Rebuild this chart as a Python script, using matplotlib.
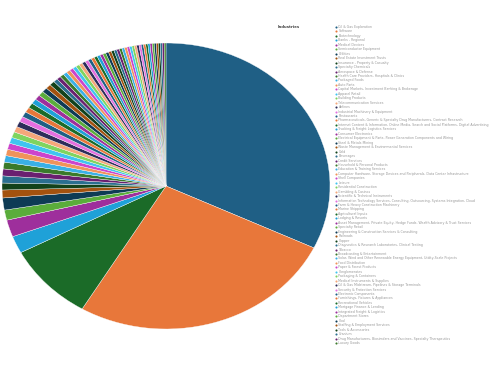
import matplotlib.pyplot as plt
from matplotlib.lines import Line2D

major_shares = [32.1, 26.4, 8.75, 1.94, 1.92, 1.14, 1.36, 0.89, 0.78]
minor_shares = [
    0.80, 0.78, 0.76, 0.74, 0.72, 0.70, 0.68, 0.66, 0.64, 0.63,
    0.61, 0.60, 0.58, 0.57, 0.56, 0.55, 0.54, 0.53, 0.52, 0.51,
    0.42, 0.41, 0.40, 0.39, 0.38, 0.37, 0.36, 0.36, 0.35, 0.34,
    0.33, 0.33, 0.32, 0.31, 0.31, 0.30, 0.30, 0.29, 0.28, 0.28,
    0.27, 0.27, 0.26, 0.26, 0.25, 0.25, 0.24, 0.24, 0.23, 0.23,
    0.22, 0.22, 0.22, 0.21, 0.21, 0.21, 0.20, 0.20, 0.20, 0.19,
    0.19, 0.19, 0.18,
]
shares = major_shares + minor_shares

industries = [
    "Oil & Gas Exploration", "Software", "Biotechnology", "Banks - Regional",
    "Medical Devices", "Semiconductor Equipment", "Utilities", "Real Estate Investment Trusts",
    "Insurance - Property & Casualty", "Specialty Chemicals", "Aerospace & Defense",
    "Health Care Providers, Hospitals & Clinics", "Packaged Foods", "Auto Parts",
    "Capital Markets, Investment Banking & Brokerage", "Apparel Retail",
    "Building Products", "Telecommunication Services", "Airlines",
    "Industrial Machinery & Equipment", "Restaurants",
    "Pharmaceuticals, Generic & Specialty Drug Manufacturers, Contract Research",
    "Internet Content & Information, Online Media, Search and Social Platforms, Digital Advertising",
    "Trucking & Freight Logistics Services", "Consumer Electronics",
    "Electrical Equipment & Parts, Power Generation Components and Wiring",
    "Steel & Metals Mining", "Waste Management & Environmental Services",
    "Gold", "Beverages", "Credit Services", "Household & Personal Products",
    "Education & Training Services",
    "Computer Hardware, Storage Devices and Peripherals, Data Center Infrastructure",
    "Shell Companies", "Leisure",
    "Residential Construction", "Gambling & Casinos", "Scientific & Technical Instruments",
    "Information Technology Services, Consulting, Outsourcing, Systems Integration, Cloud",
    "Farm & Heavy Construction Machinery", "Marine Shipping",
    "Agricultural Inputs", "Lodging & Resorts",
    "Asset Management, Private Equity, Hedge Funds, Wealth Advisory & Trust Services",
    "Specialty Retail", "Engineering & Construction Services & Consulting",
    "Railroads", "Copper", "Diagnostics & Research Laboratories, Clinical Testing",
    "Tobacco", "Broadcasting & Entertainment",
    "Solar, Wind and Other Renewable Energy Equipment, Utility-Scale Projects",
    "Food Distribution", "Paper & Forest Products", "Conglomerates",
    "Packaging & Containers", "Medical Instruments & Supplies",
    "Oil & Gas Midstream, Pipelines & Storage Terminals",
    "Security & Protection Services", "Electronic Components",
    "Furnishings, Fixtures & Appliances", "Recreational Vehicles",
    "Mortgage Finance & Lending", "Integrated Freight & Logistics",
    "Department Stores", "Coal", "Staffing & Employment Services",
    "Tools & Accessories", "Uranium",
    "Drug Manufacturers, Biosimilars and Vaccines, Specialty Therapeutics",
    "Luxury Goods",
]

palette = [
    "#1f5f85", "#e8773a", "#1b6b28", "#1fa1d8", "#9e2f9c", "#5aad3b",
    "#0e3b55", "#a3520f", "#12421a", "#2a6f8f", "#6a2070", "#3a7a2a",
    "#3ab0e6", "#f0935a", "#cc44cc", "#40c4f0", "#7fd45f", "#f5a77a",
    "#2d2d5a", "#e46fe0",
]
colors = [palette[i % len(palette)] for i in range(len(shares))]

W, H = 499, 366
fig = plt.figure(figsize=(W / 100, H / 100), dpi=100)

# pie box in pixels: x 2..330, y 43..329 (the original is slightly stretched)
ax = fig.add_axes([2 / W, 1 - 329 / H, 328 / W, 286 / H])
ax.pie(shares, colors=colors, startangle=90, counterclock=False,
       wedgeprops=dict(linewidth=0.25, edgecolor="white"))
ax.set_aspect("auto")
ax.set_xlim(-1, 1)
ax.set_ylim(-1, 1)
ax.axis("off")

# legend
fig.text(278 / W, 1 - 27 / H, "Industries", fontsize=2.8, fontweight="bold",
         color="#444444", va="center", ha="left")
y0, y1 = 27, 343
step = (y1 - y0) / (len(industries) - 1)
for i, (name, col) in enumerate(zip(industries, colors)):
    y = 1 - (y0 + i * step) / H
    fig.add_artist(Line2D([336 / W], [y], marker="o", markersize=1.5,
                          markerfacecolor=col, markeredgewidth=0,
                          transform=fig.transFigure))
    fig.text(338.5 / W, y, name, fontsize=2.3, color="#9a9a9a",
             va="center", ha="left")

fig.savefig("out.png", dpi=100)
